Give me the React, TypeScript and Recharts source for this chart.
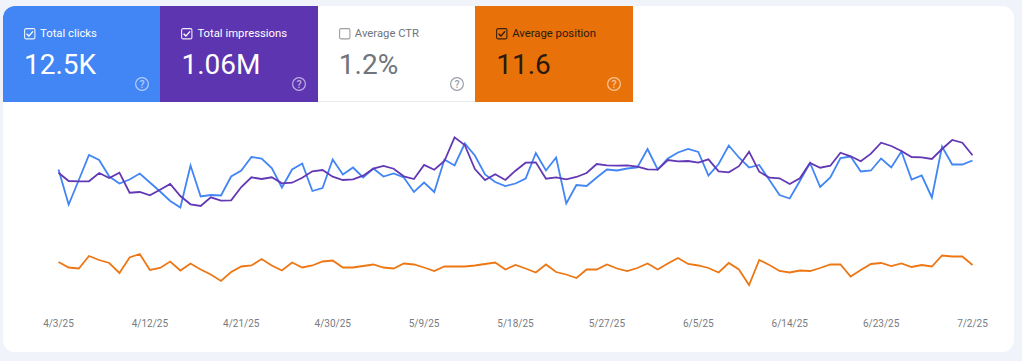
import React from 'react';
import { LineChart, Line, XAxis, YAxis } from 'recharts';

const dates = [
  '4/3/25', '4/4/25', '4/5/25', '4/6/25', '4/7/25', '4/8/25', '4/9/25', '4/10/25', '4/11/25', '4/12/25',
  '4/13/25', '4/14/25', '4/15/25', '4/16/25', '4/17/25', '4/18/25', '4/19/25', '4/20/25', '4/21/25', '4/22/25',
  '4/23/25', '4/24/25', '4/25/25', '4/26/25', '4/27/25', '4/28/25', '4/29/25', '4/30/25', '5/1/25', '5/2/25',
  '5/3/25', '5/4/25', '5/5/25', '5/6/25', '5/7/25', '5/8/25', '5/9/25', '5/10/25', '5/11/25', '5/12/25',
  '5/13/25', '5/14/25', '5/15/25', '5/16/25', '5/17/25', '5/18/25', '5/19/25', '5/20/25', '5/21/25', '5/22/25',
  '5/23/25', '5/24/25', '5/25/25', '5/26/25', '5/27/25', '5/28/25', '5/29/25', '5/30/25', '5/31/25', '6/1/25',
  '6/2/25', '6/3/25', '6/4/25', '6/5/25', '6/6/25', '6/7/25', '6/8/25', '6/9/25', '6/10/25', '6/11/25',
  '6/12/25', '6/13/25', '6/14/25', '6/15/25', '6/16/25', '6/17/25', '6/18/25', '6/19/25', '6/20/25', '6/21/25',
  '6/22/25', '6/23/25', '6/24/25', '6/25/25', '6/26/25', '6/27/25', '6/28/25', '6/29/25', '6/30/25', '7/1/25',
  '7/2/25',
];

// no value axis in the screenshot, so these are estimates scaled around the tile averages
const clicks = [
  146, 76, 125, 175, 165, 132, 118, 126, 138, 120,
  102, 83, 70, 154, 92, 95, 94, 132, 144, 171,
  168, 149, 110, 146, 158, 103, 109, 166, 136, 150,
  130, 148, 132, 138, 130, 101, 120, 101, 166, 154,
  198, 174, 136, 121, 113, 118, 128, 179, 144, 170,
  78, 115, 113, 130, 146, 144, 148, 150, 187, 146,
  168, 180, 187, 181, 134, 157, 194, 170, 150, 155,
  125, 95, 88, 123, 159, 111, 130, 169, 172, 142,
  144, 168, 150, 182, 126, 134, 90, 192, 156, 156,
  164,
];

const impressions = [
  11480, 10650, 10620, 10620, 11450, 10950, 11480, 9480, 9550, 9220,
  9780, 10350, 9150, 8320, 8150, 9020, 8680, 8720, 10050, 11020,
  10850, 11020, 10420, 10480, 10980, 11620, 11750, 11080, 10750, 10820,
  11180, 11880, 12150, 11880, 11120, 10850, 12250, 11780, 12650, 15020,
  14250, 11850, 10750, 11320, 10750, 11680, 12480, 12520, 10880, 11020,
  10820, 11050, 11450, 12350, 12220, 12180, 12220, 12080, 11820, 11780,
  12750, 12620, 12650, 12480, 12820, 11620, 11520, 12130, 13580, 11580,
  10980, 10920, 10350, 10920, 12450, 11980, 12180, 13480, 13120, 12620,
  13380, 14480, 14150, 13650, 13050, 13020, 12850, 13850, 14750, 14480,
  13220,
];

const position = [
  11.5, 11.61, 11.63, 11.38, 11.46, 11.52, 11.72, 11.41, 11.34, 11.66,
  11.62, 11.49, 11.67, 11.53, 11.65, 11.75, 11.88, 11.7, 11.59, 11.57,
  11.44, 11.57, 11.67, 11.51, 11.61, 11.57, 11.49, 11.47, 11.61, 11.61,
  11.58, 11.55, 11.61, 11.63, 11.53, 11.55, 11.61, 11.68, 11.59, 11.59,
  11.59, 11.57, 11.54, 11.51, 11.65, 11.56, 11.63, 11.71, 11.55, 11.7,
  11.75, 11.82, 11.65, 11.65, 11.55, 11.63, 11.68, 11.62, 11.53, 11.65,
  11.53, 11.42, 11.54, 11.57, 11.62, 11.71, 11.52, 11.65, 11.96, 11.46,
  11.56, 11.68, 11.71, 11.67, 11.68, 11.62, 11.55, 11.55, 11.79, 11.66,
  11.54, 11.52, 11.58, 11.53, 11.6, 11.56, 11.59, 11.37, 11.39, 11.39,
  11.56,
];

const data = dates.map((date, i) => ({
  date,
  clicks: clicks[i],
  impressions: impressions[i],
  position: position[i],
}));

const tiles = [
  { label: 'Total clicks', value: '12.5K', bg: '#4285f4', fg: '#ffffff', checked: true },
  { label: 'Total impressions', value: '1.06M', bg: '#5e35b1', fg: '#ffffff', checked: true },
  { label: 'Average CTR', value: '1.2%', bg: '#ffffff', fg: '#70757a', checked: false },
  { label: 'Average position', value: '11.6', bg: '#e8710a', fg: '#2a1a0c', checked: true },
];

const FONT = 'Roboto, sans-serif';

const CheckBox = ({ color, checked }: { color: string; checked: boolean }) => (
  <svg width={12} height={12} style={{ position: 'absolute', left: 21, top: 22 }}>
    <rect x={0.6} y={0.6} width={10.3} height={10.3} rx={1.5} fill="none" stroke={color} strokeWidth={1.1} opacity={checked ? 0.9 : 0.7} />
    {checked && <path d="M2.6 5.8 L4.9 8.1 L9 3.4" fill="none" stroke={color} strokeWidth={1.4} />}
  </svg>
);

const HelpIcon = ({ color }: { color: string }) => (
  <svg width={16} height={16} style={{ position: 'absolute', left: 131, top: 70 }}>
    <circle cx={8} cy={8} r={6.4} fill="none" stroke={color} strokeWidth={1.2} />
    <text x={8} y={11.7} textAnchor="middle" fontSize={10.5} fontWeight={500} fontFamily={FONT} fill={color}>?</text>
  </svg>
);

const Tile = ({ label, value, bg, fg, checked, index }: any) => {
  const help = index === 2 ? '#9aa0a6' : 'rgba(255,255,255,0.6)';
  return (
    <div
      style={{
        position: 'absolute',
        left: 3 + index * 157.4,
        top: 6,
        width: 157.4,
        height: 96,
        background: bg,
        borderTopLeftRadius: index === 0 ? 12 : 0,
        borderBottom: index === 2 ? '1px solid #e8eaed' : 'none',
        boxSizing: 'border-box',
        color: fg,
        fontFamily: FONT,
      }}
    >
      <CheckBox color={fg} checked={checked} />
      <div style={{ position: 'absolute', left: 37, top: 21, fontSize: 11.3, lineHeight: '14px', whiteSpace: 'nowrap' }}>{label}</div>
      <div style={{ position: 'absolute', left: 21, top: 41.5, fontSize: 28, lineHeight: '33px', whiteSpace: 'nowrap' }}>{value}</div>
      <HelpIcon color={help} />
    </div>
  );
};

const App = () => {
  return (
    <div style={{ position: 'absolute', left: 0, top: 0, width: 1022, height: 361, background: '#f0f3f9', overflow: 'hidden' }}>
      <div style={{ position: 'absolute', left: 3, top: 6, width: 1011, height: 346, background: '#ffffff', borderRadius: 12 }} />
      {tiles.map((t, i) => (
        <Tile key={t.label} index={i} {...t} />
      ))}
      <div style={{ position: 'absolute', left: 0, top: 0 }}>
        <LineChart width={1022} height={361} data={data} margin={{ top: 120, right: 49.5, bottom: 31, left: 58.5 }}>
          <XAxis
            dataKey="date"
            interval={8}
            axisLine={false}
            tickLine={false}
            height={30}
            tick={{ fill: '#777b80', fontSize: 10, fontFamily: FONT }}
            tickMargin={14}
          />
          <YAxis yAxisId="clicks" hide domain={[-115, 245]} />
          <YAxis yAxisId="impressions" hide domain={[-1250, 16750]} />
          <YAxis yAxisId="position" hide reversed domain={[8.66, 12.26]} />
          <Line yAxisId="clicks" type="linear" dataKey="clicks" stroke="#4285f4" strokeWidth={1.8} dot={false} isAnimationActive={false} />
          <Line yAxisId="impressions" type="linear" dataKey="impressions" stroke="#6238b5" strokeWidth={1.8} dot={false} isAnimationActive={false} />
          <Line yAxisId="position" type="linear" dataKey="position" stroke="#ec7714" strokeWidth={1.8} dot={false} isAnimationActive={false} />
        </LineChart>
      </div>
    </div>
  );
};

export default App;
